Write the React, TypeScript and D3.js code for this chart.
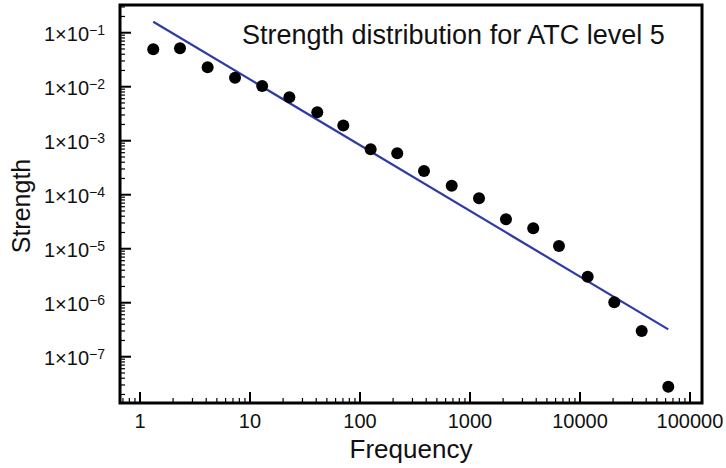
import React, { useEffect, useRef } from "react";
import * as d3 from "d3";

// data
const frequency = [
  1.32, 2.31, 4.12, 7.31, 12.9, 22.8, 40.9, 70.5, 125, 218, 382, 682, 1208, 2124,
  3758, 6442, 11750, 20500, 36400, 63500,
];
const strength = [
  0.0493, 0.0514, 0.0229, 0.0147, 0.0103, 0.00637, 0.00336, 0.00191, 0.000697,
  0.000585, 0.000275, 0.000147, 8.57e-5, 3.5e-5, 2.39e-5, 1.12e-5, 3.03e-6,
  1.02e-6, 2.99e-7, 2.78e-8,
];
// power-law fit (endpoints)
const fitFrequency = [1.32, 63500];
const fitStrength = [0.16, 3.21e-7];

const xTickValues = [1, 10, 100, 1000, 10000, 100000];
const xTickLabels = ["1", "10", "100", "1000", "10000", "100000"];
const yTickValues = [1e-1, 1e-2, 1e-3, 1e-4, 1e-5, 1e-6, 1e-7];
const yTickExponents = ["−1", "−2", "−3", "−4", "−5", "−6", "−7"];

const title = "Strength distribution for ATC level 5";
const FONT = "'Liberation Sans', Arial, Helvetica, sans-serif";

const App = () => {
  const svgRef = useRef<SVGSVGElement>(null);

  useEffect(() => {
    const W = 726;
    const H = 468;
    const margin = { top: 5, right: 24, bottom: 65, left: 120 };
    const width = W - margin.left - margin.right;
    const height = H - margin.top - margin.bottom;

    const root = d3.select(svgRef.current);
    root.selectAll("*").remove();
    const svg = root
      .append("g")
      .attr("transform", `translate(${margin.left},${margin.top})`);

    const x = d3.scaleLog().domain([0.658, 128600]).range([0, width]);
    const y = d3.scaleLog().domain([1.39e-8, 0.326]).range([height, 0]);

    // minor ticks
    const minors = (lo: number, hi: number, dom: number[]) => {
      const out: number[] = [];
      for (let n = lo; n <= hi; n++)
        for (let k = 2; k <= 9; k++) {
          const v = k * Math.pow(10, n);
          if (v > dom[0] && v < dom[1]) out.push(v);
        }
      return out;
    };
    const xMinor = minors(-1, 5, x.domain());
    const yMinor = minors(-9, -1, y.domain());

    svg
      .selectAll(".xminor")
      .data(xMinor)
      .enter()
      .append("line")
      .attr("x1", (d) => x(d))
      .attr("x2", (d) => x(d))
      .attr("y1", height)
      .attr("y2", height - 5)
      .attr("stroke", "#000")
      .attr("stroke-width", 1.2);

    svg
      .selectAll(".xmajor")
      .data(xTickValues)
      .enter()
      .append("line")
      .attr("x1", (d) => x(d))
      .attr("x2", (d) => x(d))
      .attr("y1", height)
      .attr("y2", height - 11)
      .attr("stroke", "#000")
      .attr("stroke-width", 2);

    svg
      .selectAll(".yminor")
      .data(yMinor)
      .enter()
      .append("line")
      .attr("x1", 0)
      .attr("x2", 5)
      .attr("y1", (d) => y(d))
      .attr("y2", (d) => y(d))
      .attr("stroke", "#000")
      .attr("stroke-width", 1.2);

    svg
      .selectAll(".ymajor")
      .data(yTickValues)
      .enter()
      .append("line")
      .attr("x1", 0)
      .attr("x2", 11)
      .attr("y1", (d) => y(d))
      .attr("y2", (d) => y(d))
      .attr("stroke", "#000")
      .attr("stroke-width", 2);

    // frame
    svg
      .append("rect")
      .attr("x", 0)
      .attr("y", 0)
      .attr("width", width)
      .attr("height", height)
      .attr("fill", "none")
      .attr("stroke", "#000")
      .attr("stroke-width", 3);

    // tick labels
    svg
      .selectAll(".xlabel")
      .data(xTickValues)
      .enter()
      .append("text")
      .attr("x", (d) => x(d))
      .attr("y", height + 25)
      .attr("text-anchor", "middle")
      .style("font-family", FONT)
      .style("font-size", "20px")
      .attr("fill", "#111")
      .text((d, i) => xTickLabels[i]);

    const ylab = svg
      .selectAll(".ylabel")
      .data(yTickValues)
      .enter()
      .append("text")
      .attr("x", -15)
      .attr("y", (d) => y(d) + 8)
      .attr("text-anchor", "end")
      .style("font-family", FONT)
      .style("font-size", "20px")
      .attr("fill", "#111");
    ylab.append("tspan").text("1×10");
    ylab
      .append("tspan")
      .attr("dy", -6)
      .style("font-size", "14px")
      .text((d, i) => yTickExponents[i]);

    // fit line
    const line = d3
      .line<number>()
      .x((d) => x(fitFrequency[d]))
      .y((d) => y(fitStrength[d]));
    svg
      .append("path")
      .attr("d", line([0, 1]))
      .attr("fill", "none")
      .attr("stroke", "#2e3aa6")
      .attr("stroke-width", 2.2);

    // points
    svg
      .selectAll(".dot")
      .data(frequency)
      .enter()
      .append("circle")
      .attr("cx", (d) => x(d))
      .attr("cy", (d, i) => y(strength[i]))
      .attr("r", 6)
      .attr("fill", "#000");

    // title
    svg
      .append("text")
      .attr("x", 122)
      .attr("y", 39)
      .style("font-family", FONT)
      .style("font-size", "27px")
      .attr("fill", "#111")
      .text(title);

    // axis titles
    svg
      .append("text")
      .attr("x", 291)
      .attr("y", height + 55)
      .attr("text-anchor", "middle")
      .style("font-family", FONT)
      .style("font-size", "26px")
      .attr("fill", "#111")
      .text("Frequency");

    svg
      .append("text")
      .attr("transform", `translate(${-90},${206 - margin.top}) rotate(-90)`)
      .attr("text-anchor", "middle")
      .style("font-family", FONT)
      .style("font-size", "25px")
      .attr("fill", "#111")
      .text("Strength");
  }, []);

  return (
    <svg
      ref={svgRef}
      width={726}
      height={468}
      style={{ position: "absolute", left: 0, top: 0, background: "#fff" }}
    ></svg>
  );
};

export default App;
